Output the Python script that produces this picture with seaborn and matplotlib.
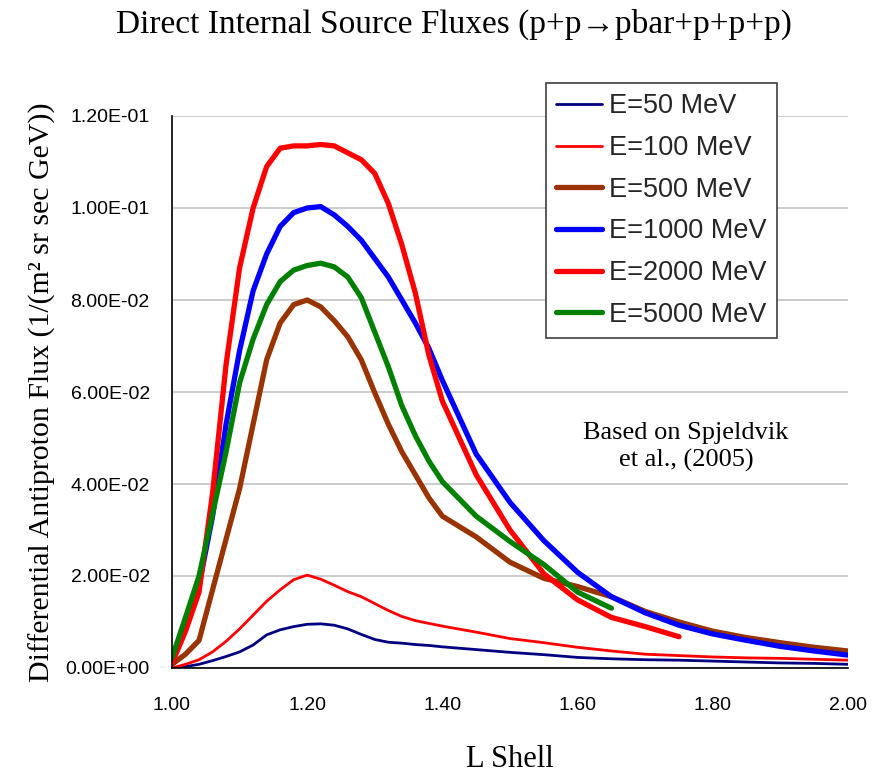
import matplotlib
matplotlib.use("Agg")
import matplotlib.pyplot as plt
import seaborn as sns
import pandas as pd
from matplotlib.ticker import FuncFormatter

# ---- data ----
L_shell = [1.00, 1.02, 1.04, 1.06, 1.08, 1.10, 1.12, 1.14, 1.16, 1.18, 1.20,
           1.22, 1.24, 1.26, 1.28, 1.30, 1.32, 1.34, 1.36, 1.38, 1.40, 1.45,
           1.50, 1.55, 1.60, 1.65, 1.70, 1.75, 1.80, 1.85, 1.90, 1.95, 2.00]

flux_50 = [0.0000, 0.0003, 0.0008, 0.0016, 0.0025, 0.0035, 0.0050, 0.0072, 0.0083,
           0.0090, 0.0095, 0.0096, 0.0093, 0.0085, 0.0073, 0.0062, 0.0056, 0.0054,
           0.0051, 0.0049, 0.0046, 0.0040, 0.0034, 0.0029, 0.0023, 0.0020, 0.0018,
           0.0017, 0.0015, 0.0013, 0.0011, 0.0010, 0.0008]

flux_100 = [0.0000, 0.0008, 0.0018, 0.0035, 0.0058, 0.0085, 0.0115, 0.0145, 0.0170,
            0.0192, 0.0202, 0.0193, 0.0180, 0.0166, 0.0155, 0.0140, 0.0125, 0.0112,
            0.0103, 0.0097, 0.0091, 0.0078, 0.0064, 0.0055, 0.0045, 0.0037, 0.0030,
            0.0027, 0.0024, 0.0022, 0.0021, 0.0019, 0.0017]

flux_500 = [0.0008, 0.0030, 0.0060, 0.0170, 0.0280, 0.0390, 0.0530, 0.0670, 0.0750,
            0.0790, 0.0800, 0.0785, 0.0755, 0.0720, 0.0670, 0.0598, 0.0530, 0.0470,
            0.0420, 0.0370, 0.0330, 0.0285, 0.0230, 0.0195, 0.0177, 0.0155, 0.0123,
            0.0100, 0.0080, 0.0066, 0.0055, 0.0045, 0.0037]

flux_1000 = [0.0020, 0.0090, 0.0180, 0.0330, 0.0530, 0.0690, 0.0820, 0.0900, 0.0960,
             0.0990, 0.1000, 0.1003, 0.0985, 0.0960, 0.0930, 0.0890, 0.0850, 0.0800,
             0.0750, 0.0695, 0.0625, 0.0465, 0.0360, 0.0277, 0.0208, 0.0155, 0.0120,
             0.0093, 0.0074, 0.0060, 0.0047, 0.0037, 0.0028]

L_shell_2000 = L_shell[:28]
flux_2000 = [0.0010, 0.0080, 0.0165, 0.0380, 0.0660, 0.0870, 0.1000, 0.1090, 0.1130,
             0.1135, 0.1135, 0.1138, 0.1135, 0.1120, 0.1105, 0.1075, 0.1010, 0.0920,
             0.0815, 0.0680, 0.0580, 0.0420, 0.0300, 0.0205, 0.0148, 0.0110, 0.0090,
             0.0068]

L_shell_5000 = L_shell[:26]
flux_5000 = [0.0022, 0.0110, 0.0200, 0.0335, 0.0470, 0.0620, 0.0715, 0.0790, 0.0840,
             0.0865, 0.0875, 0.0880, 0.0872, 0.0850, 0.0805, 0.0730, 0.0655, 0.0570,
             0.0505, 0.0450, 0.0405, 0.0330, 0.0275, 0.0225, 0.0165, 0.0130]

labels = ["E=50 MeV", "E=100 MeV", "E=500 MeV", "E=1000 MeV", "E=2000 MeV", "E=5000 MeV"]
series_x = [L_shell, L_shell, L_shell, L_shell, L_shell_2000, L_shell_5000]
series_y = [flux_50, flux_100, flux_500, flux_1000, flux_2000, flux_5000]
colors = ["#000080", "#FF0000", "#993300", "#0000FF", "#FF0000", "#008000"]
widths = [2.0, 2.0, 3.8, 3.8, 3.8, 3.8]

y_ticks = [0.0, 0.02, 0.04, 0.06, 0.08, 0.10, 0.12]
x_ticks = [1.0, 1.2, 1.4, 1.6, 1.8, 2.0]

# ---- plot ----
sns.set_theme(style="white")
plt.rcParams['font.family'] = ['Liberation Sans', 'DejaVu Sans']
serif = ['Liberation Serif', 'DejaVu Serif']

fig = plt.figure(figsize=(8.75, 7.78), dpi=100)
ax = fig.add_axes([172 / 875, 1 - 668 / 778, (848 - 172) / 875, (668 - 116) / 778])

for xs, ys, lab, c, w in zip(series_x, series_y, labels, colors, widths):
    df = pd.DataFrame({"L": xs, "flux": ys})
    sns.lineplot(data=df, x="L", y="flux", color=c, linewidth=w, label=lab,
                 ax=ax, sort=False, estimator=None)

ax.set_xlim(1.0, 2.0)
ax.set_ylim(0.0, 0.12)
ax.set_xticks(x_ticks)
ax.set_yticks(y_ticks)
ax.xaxis.set_major_formatter(FuncFormatter(lambda v, p: f"{v:.2f}"))
ax.yaxis.set_major_formatter(FuncFormatter(lambda v, p: f"{v:.2E}"))
ax.tick_params(axis='both', which='major', direction='out', length=7, width=1.2,
               color='black', labelsize=14, labelcolor='black')
ax.tick_params(axis='y', pad=9)
ax.tick_params(axis='x', pad=14)
ax.grid(axis='y', color='#C8C8C8', linewidth=1.3)
ax.grid(axis='x', visible=False)
ax.set_axisbelow(True)
for s in ['top', 'right']:
    ax.spines[s].set_visible(False)
for s in ['left', 'bottom']:
    ax.spines[s].set_color('black')
    ax.spines[s].set_linewidth(1.2)

ax.set_xlabel("L Shell", fontsize=22, family=serif, labelpad=22, color='black')
ax.set_ylabel("Differential Antiproton Flux (1/(m\u00b2 sr sec GeV))", fontsize=21.5,
              family=serif, labelpad=7, color='black')

fig.text(454 / 875, 1 - 24 / 778, "Direct Internal Source Fluxes (p+p\u2192pbar+p+p+p)",
         ha='center', va='center', fontsize=24, family=serif, color='black')

fig.text(686 / 875, 1 - 447 / 778, "Based on Spjeldvik\net al., (2005)",
         ha='center', va='center', fontsize=19, family=serif, color='black',
         linespacing=1.3)

leg = ax.legend(loc='upper left', bbox_to_anchor=(546 / 875, 1 - 83 / 778),
                bbox_transform=fig.transFigure, fontsize=19.5, frameon=True,
                fancybox=False, edgecolor='#404040', framealpha=1,
                handlelength=1.7, handletextpad=0.25, labelspacing=0.58,
                borderpad=0.38, borderaxespad=0)
leg.get_frame().set_linewidth(1.2)

fig.savefig("out.png", dpi=100)
